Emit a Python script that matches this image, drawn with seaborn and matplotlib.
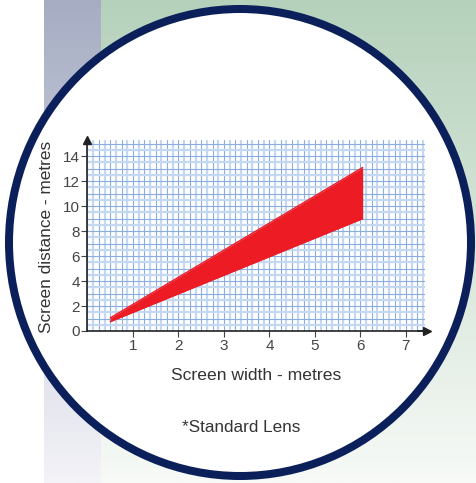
import numpy as np
import pandas as pd
import matplotlib
matplotlib.use("Agg")
import matplotlib.pyplot as plt
from matplotlib.patches import Ellipse
from matplotlib.colors import to_rgb
from matplotlib.ticker import MultipleLocator
import seaborn as sns

# ---- data ----
screen_width = [0.5, 6.05]          # metres
distance_max = [1.05, 13.1]         # metres (upper edge of band)
distance_min = [0.75, 9.0]          # metres (lower edge of band)
x_ticks = [1, 2, 3, 4, 5, 6, 7]
y_ticks = [0, 2, 4, 6, 8, 10, 12, 14]

df = pd.DataFrame({"width": screen_width, "dmax": distance_max, "dmin": distance_min})

sns.set_style("white")
plt.rcParams["font.family"] = ["Liberation Sans", "DejaVu Sans"]

W, H = 477, 483
fig = plt.figure(figsize=(W / 100, H / 100), dpi=100)

# ---- background ----
bg = fig.add_axes([0, 0, 1, 1])
bg.set_xlim(0, W)
bg.set_ylim(H, 0)
bg.axis("off")

def vgrad(top, bottom, n=256):
    t = np.linspace(0, 1, n)[:, None]
    a = np.array(to_rgb(top)); b = np.array(to_rgb(bottom))
    return (a[None, :] * (1 - t) + b[None, :] * t)[:, None, :]

bg.imshow(vgrad("#a6adc3", "#f3f3f8"), extent=[44, 101, H, 0], aspect="auto", zorder=0)
bg.imshow(vgrad("#b5d1bb", "#f7faf7"), extent=[101, W, H, 0], aspect="auto", zorder=0)
bg.add_patch(Ellipse((240, 242.5), 462, 467, facecolor="white",
                     edgecolor="#0b1f5b", linewidth=8 * 0.72, zorder=1))

# ---- chart ----
x0, x1 = 87.5, 425
y0, y1 = 331, 140
ax = fig.add_axes([x0 / W, (H - y0) / H, (x1 - x0) / W, (y0 - y1) / H])
ax.set_facecolor("white")
ax.set_xlim(0, 7.42)
ax.set_ylim(0, 15.3)

ax.xaxis.set_major_locator(MultipleLocator(0.25))
ax.xaxis.set_minor_locator(MultipleLocator(0.125))
ax.yaxis.set_major_locator(MultipleLocator(1))
ax.yaxis.set_minor_locator(MultipleLocator(0.5))
ax.grid(which="minor", color="#c4d8f2", linewidth=1.6, zorder=0)
ax.grid(which="major", color="#8aadde", linewidth=0.8, zorder=0)
ax.set_axisbelow(True)

# red band
ax.fill_between(df["width"], df["dmin"], df["dmax"], color="#ed1c24", linewidth=0, zorder=3)
sns.lineplot(data=df, x="width", y="dmax", color="#ed1c24", linewidth=1, ax=ax, zorder=3)
sns.lineplot(data=df, x="width", y="dmin", color="#ed1c24", linewidth=1, ax=ax, zorder=3)

ax.tick_params(which="both", bottom=False, left=False, labelbottom=False, labelleft=False)
tx = ax.secondary_xaxis("bottom")
tx.set_xticks(x_ticks)
tx.set_xticklabels([str(v) for v in x_ticks])
tx.tick_params(length=4, width=0.8, color="#444444", labelsize=11, labelcolor="#444444", pad=1.5)
tx.spines["bottom"].set_visible(False)
ty = ax.secondary_yaxis("left")
ty.set_yticks(y_ticks)
ty.set_yticklabels([str(v) for v in y_ticks])
ty.tick_params(length=4, width=0.8, color="#444444", labelsize=11, labelcolor="#444444", pad=1.5)
ty.spines["left"].set_visible(False)

for s in ["top", "right"]:
    ax.spines[s].set_visible(False)
for s in ["left", "bottom"]:
    ax.spines[s].set_color("#222222")
    ax.spines[s].set_linewidth(1.2)
    ax.spines[s].set_zorder(5)

# arrows
ax.plot([0], [1.0], marker="^", markersize=6, color="#222222", transform=ax.transAxes, clip_on=False, zorder=6)
ax.plot([1.005], [0], marker=">", markersize=6, color="#222222", transform=ax.transAxes, clip_on=False, zorder=6)
ax.plot([0.98, 1.0], [0, 0], color="#222222", linewidth=1.2, transform=ax.transAxes, clip_on=False, zorder=6)

ax.set_xlabel("")
ax.set_ylabel("")
fig.text((x0 + x1) / 2 / W, 1 - 375 / H, "Screen width - metres", ha="center", va="center",
         fontsize=12.6, color="#333333")
fig.text(47 / W, 1 - 237 / H, "Screen distance - metres", ha="center", va="center",
         rotation=90, fontsize=12.4, color="#333333")
fig.text(241 / W, 1 - 428 / H, "*Standard Lens", ha="center", va="center",
         fontsize=12.3, color="#333333")

fig.savefig("out.png", dpi=100)
